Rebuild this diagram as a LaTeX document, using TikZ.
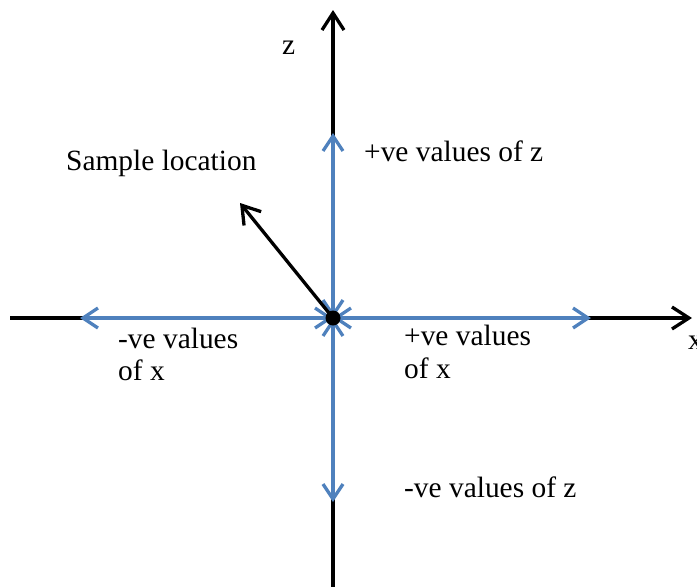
\documentclass[tikz,border=0pt]{standalone}
\usepackage{fontspec}
\setmainfont{Liberation Serif}
\usetikzlibrary{arrows.meta}
\definecolor{axisblue}{HTML}{4F81BD}
\begin{document}
\begin{tikzpicture}[x=1pt,y=-1pt,
  axisline/.style={line width=3.3pt,black,-{Straight Barb[length=17pt,width=22pt]}},
  blueline/.style={line width=3.3pt,axisblue,{Straight Barb[length=15pt,width=20pt]}-{Straight Barb[length=15pt,width=20pt]}},
  lbl/.style={anchor=base west,inner sep=0pt,font=\fontsize{29.4}{32.5}\selectfont}]
\useasboundingbox (0,0) rectangle (697,587);
% coordinates
\coordinate (o) at (333,318);
\coordinate (ztop) at (333,10);
\coordinate (zbot) at (333,590);
\coordinate (xleft) at (10,318);
\coordinate (xright) at (692,318);
\coordinate (bu) at (333,133);
\coordinate (bd) at (333,502);
\coordinate (bl) at (80,318);
\coordinate (br) at (591,318);
\coordinate (s) at (240,203);
% black axes
\draw[axisline] (zbot) -- (ztop);
\draw[axisline] (xleft) -- (xright);
% blue arrows
\draw[blueline] (o) -- (bu);
\draw[blueline] (o) -- (bd);
\draw[blueline] (o) -- (bl);
\draw[blueline] (o) -- (br);
% sample arrow
\draw[axisline] (o) -- (s);
\node[circle,fill=black,minimum size=15pt,inner sep=0pt] (dot) at (o) {};
% labels
\node[lbl] (zl) at (282,54) {z};
\node[lbl] (xl) at (688,349) {x};
\node[lbl] (sl) at (66,170) {Sample location};
\node[lbl] (pz) at (364,161) {+ve values of z};
\node[lbl] (nz) at (404,497) {-ve values of z};
\node[lbl] (nx1) at (118,348) {-ve values};
\node[lbl] (nx2) at (118,380) {of x};
\node[lbl] (px1) at (404,345) {+ve values};
\node[lbl] (px2) at (404,378) {of x};
\end{tikzpicture}
\end{document}
